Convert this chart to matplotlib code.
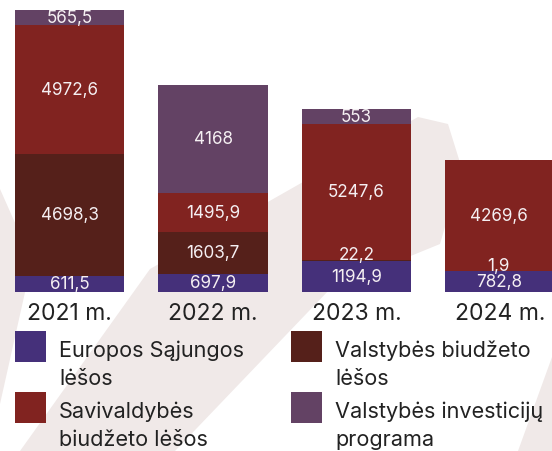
import numpy as np
import matplotlib.pyplot as plt
from matplotlib.patches import Polygon, Rectangle

plt.rcParams['font.family'] = ['Inter', 'DejaVu Sans']

# duomenys (tūkst. Eur)
years = ['2021 m.', '2022 m.', '2023 m.', '2024 m.']
es_lesos = [611.5, 697.9, 1194.9, 782.8]
valst_biudzetas = [4698.3, 1603.7, 22.2, 1.9]
savivaldybes = [4972.6, 1495.9, 5247.6, 4269.6]
vip = [565.5, 4168, 553, 0]

names = ['Europos Sąjungos\nlėšos', 'Valstybės biudžeto\nlėšos',
         'Savivaldybės\nbiudžeto lėšos', 'Valstybės investicijų\nprograma']
colors = ['#45307a', '#55201a', '#812320', '#634264']

W, H = 552, 452
fig = plt.figure(figsize=(W / 100, H / 100), dpi=100)


def px(x, y):
    return (x / W, 1 - y / H)


# fono dekoracija
bg = '#f0e9e8'
shapes = [
    [(20, 452), (175, 452), (330, 290), (440, 245), (462, 170), (448, 125),
     (418, 118), (303, 183), (150, 270)],
    [(0, 190), (32, 262), (0, 405)],
    [(518, 452), (552, 452), (552, 358)],
]
for s in shapes:
    fig.patches.append(Polygon([px(*p) for p in s], closed=True, facecolor=bg,
                               edgecolor='none', transform=fig.transFigure, zorder=-5))

bottom_px = 292.7
ax = fig.add_axes([0, 1 - bottom_px / H, 1, bottom_px / H])
ax.patch.set_alpha(0)

x = np.arange(len(years))
stack = [es_lesos, valst_biudzetas, savivaldybes, vip]
base = np.zeros(len(years))


def fmt(v):
    if v == 0:
        return ''
    if float(v).is_integer():
        return str(int(v))
    return ('%.1f' % v).replace('.', ',')


for vals, c in zip(stack, colors):
    bars = ax.bar(x, vals, width=109 / 143, bottom=base, color=c, linewidth=0)
    anns = ax.bar_label(bars, labels=[fmt(v) for v in vals], label_type='center',
                        color='#f5eff2', fontsize=12.3)
    # mažos reikšmės šiek tiek aukščiau, kad nesusilietų
    for a, v in zip(anns, vals):
        if 0 < v < 100:
            a.xyann = (0, 4.5)
    base = base + np.array(vals)

ax.set_xlim(-69.5 / 143.5, -69.5 / 143.5 + W / 143.5)
ax.set_ylim(0, bottom_px / 0.02597)
ax.set_xticks(x)
ax.set_xticklabels(years, fontsize=16.5, color='#222222')
ax.tick_params(axis='x', length=0, pad=7.5)
ax.set_yticks([])
for sp in ax.spines.values():
    sp.set_visible(False)

# legenda
leg = [(15, 332, 0), (291, 332, 1), (15, 393, 2), (291, 393, 3)]
for lx, ly, i in leg:
    x0, y0 = px(lx, ly + 31)
    fig.patches.append(Rectangle((x0, y0), 31 / W, 31 / H, facecolor=colors[i],
                                 edgecolor='none', transform=fig.transFigure))
    lines = names[i].split('\n')
    for k, line in enumerate(lines):
        tx, ty = px(lx + 44, ly + 25 + 28 * k)
        fig.text(tx, ty, line, fontsize=15.6, color='#222222', va='baseline', ha='left')

fig.savefig('out.png', dpi=100)
